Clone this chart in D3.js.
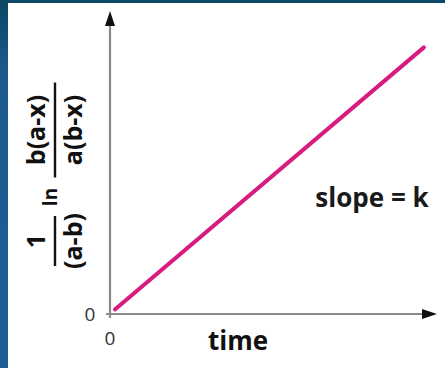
<!DOCTYPE html>
<html>
<head>
<meta charset="utf-8">
<script src="https://cdn.jsdelivr.net/npm/d3@7"></script>
<style>
  html, body { margin: 0; padding: 0; background: #1b5890; }
  svg { display: block; }
</style>
</head>
<body>
<script>
// Integrated second-order rate law: (1/(a-b)) ln[b(a-x)/(a(b-x))] = k t
const timeValues = [0.15, 9.6];
const rateValues = [0.15, 8.8];
const xTickLabels = ["0"];
const yTickLabels = ["0"];

const W = 445, H = 368;
const FONT = "'Open Sans', Lato, sans-serif";
const svg = d3.select("body").append("svg").attr("width", W).attr("height", H);

// slide backdrop
const defs = svg.append("defs");
const bg = defs.append("linearGradient").attr("id", "bg").attr("x1", 0).attr("y1", 0).attr("x2", 0).attr("y2", 1);
bg.append("stop").attr("offset", "0%").attr("stop-color", "#0d4866");
bg.append("stop").attr("offset", "20%").attr("stop-color", "#1a5a8e");
bg.append("stop").attr("offset", "100%").attr("stop-color", "#1d5e95");
svg.append("rect").attr("width", W).attr("height", H).attr("fill", "url(#bg)");
svg.append("rect").attr("x", 8).attr("y", 3).attr("width", W - 8).attr("height", H - 3).attr("fill", "#ffffff");

const x = d3.scaleLinear().domain([0, 10]).range([110, 437]);
const y = d3.scaleLinear().domain([0, 10]).range([314, 11]);

// axes
const axisColor = "#8a8a8a";
svg.append("line")
  .attr("x1", x(0)).attr("x2", x(0))
  .attr("y1", y(0) + 4).attr("y2", y(10) + 12)
  .attr("stroke", axisColor).attr("stroke-width", 2.2);
svg.append("line")
  .attr("x1", x(0) - 4).attr("x2", x(10) - 12)
  .attr("y1", y(0)).attr("y2", y(0))
  .attr("stroke", axisColor).attr("stroke-width", 2.2);

// arrowheads
svg.append("path")
  .attr("d", `M${x(0)},${y(10)} L${x(0) - 5},${y(10) + 15} L${x(0) + 5},${y(10) + 15} Z`)
  .attr("fill", "#111");
svg.append("path")
  .attr("d", `M${x(10)},${y(0)} L${x(10) - 15},${y(0) - 5} L${x(10) - 15},${y(0) + 5} Z`)
  .attr("fill", "#111");

// tick labels
svg.selectAll(".xt").data(xTickLabels).join("text")
  .attr("x", x(0)).attr("y", y(0) + 31)
  .attr("text-anchor", "middle")
  .attr("font-family", FONT).attr("font-size", 19)
  .attr("fill", "#333").text(d => d);
svg.selectAll(".yt").data(yTickLabels).join("text")
  .attr("x", x(0) - 20).attr("y", y(0) + 7)
  .attr("text-anchor", "middle")
  .attr("font-family", FONT).attr("font-size", 19)
  .attr("fill", "#333").text(d => d);

// the straight line
const pts = timeValues.map((t, i) => [t, rateValues[i]]);
svg.append("path")
  .datum(pts)
  .attr("d", d3.line().x(d => x(d[0])).y(d => y(d[1])))
  .attr("fill", "none").attr("stroke", "#d81b80").attr("stroke-width", 4)
  .attr("stroke-linecap", "round");

// x-axis title
svg.append("text")
  .attr("x", 238).attr("y", 350)
  .attr("text-anchor", "middle")
  .attr("font-family", FONT).attr("font-weight", "bold").attr("font-size", 26)
  .attr("fill", "#111").text("time");

// slope annotation
svg.append("text")
  .attr("x", 372).attr("y", 207)
  .attr("text-anchor", "middle")
  .attr("font-family", FONT).attr("font-weight", "bold").attr("font-size", 26)
  .attr("fill", "#1a1a1a").text("slope = k");

// y-axis title, rotated, built as stacked fractions
const yl = svg.append("g").attr("transform", "rotate(-90)")
  .attr("font-family", FONT).attr("font-weight", "bold")
  .attr("fill", "#111");
// in rotated frame: local x = -pageY, local y = pageX
function frac(g, cy, num, den, barLen) {
  g.append("text").attr("x", -cy).attr("y", 45).attr("text-anchor", "middle")
    .attr("font-size", 25).text(num);
  g.append("line").attr("x1", -cy - barLen / 2).attr("x2", -cy + barLen / 2)
    .attr("y1", 55).attr("y2", 55).attr("stroke", "#111").attr("stroke-width", 2.4);
  g.append("text").attr("x", -cy).attr("y", 82).attr("text-anchor", "middle")
    .attr("font-size", 25).text(den);
}
frac(yl, 241, "1", "(a-b)", 50);
yl.append("text").attr("x", -197).attr("y", 57).attr("text-anchor", "middle")
  .attr("font-size", 19).text("ln");
frac(yl, 130, "b(a-x)", "a(b-x)", 95);
</script>
</body>
</html>
